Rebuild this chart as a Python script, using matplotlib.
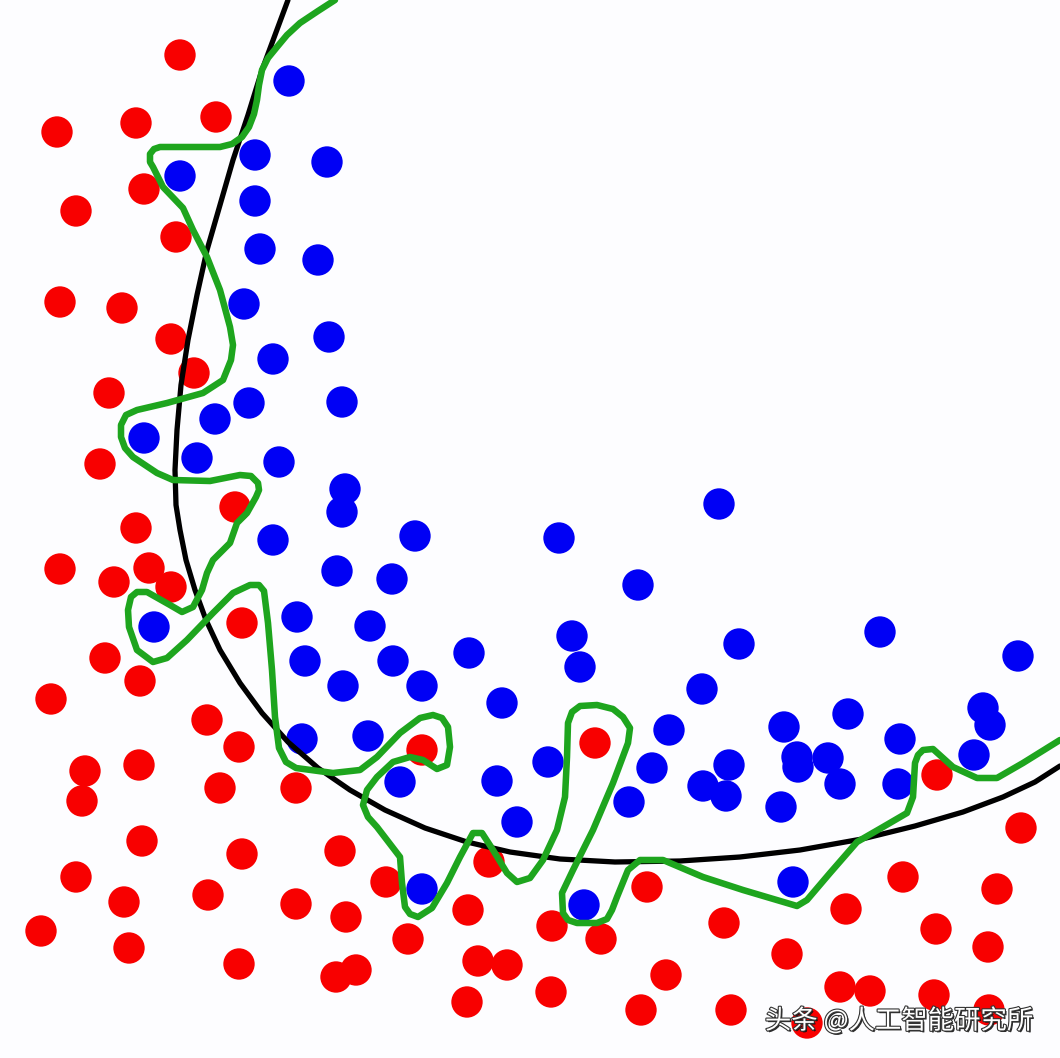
import numpy as np
import matplotlib.pyplot as plt
import matplotlib.patheffects as pe

plt.rcParams['font.family'] = ['Noto Sans CJK SC', 'DejaVu Sans']

# point positions (pixel units, y down)
red_x = [180, 57, 136, 216, 144, 76, 176, 60, 122, 171, 194, 109, 100, 235, 136,
         60, 114, 149, 171, 242, 105, 140, 51, 207, 239, 85, 139, 82, 220, 296,
         142, 242, 340, 76, 124, 208, 296, 346, 386, 422, 489, 468, 41, 129, 408,
         239, 336, 356, 478, 507, 467,
         595, 937, 1021, 647, 903, 997, 552, 601, 724, 846, 936, 988, 787, 666,
         551, 641, 731, 840, 870, 934, 989, 807]
red_y = [55, 132, 123, 117, 189, 211, 237, 302, 308, 339, 373, 393, 464, 507, 528,
         569, 582, 568, 587, 623, 658, 681, 699, 720, 747, 771, 765, 801, 788, 788,
         841, 854, 851, 877, 902, 895, 904, 917, 882, 750, 862, 910, 931, 948, 939,
         964, 977, 970, 961, 965, 1002,
         743, 775, 828, 887, 877, 889, 926, 939, 923, 909, 929, 947, 954, 975,
         992, 1010, 1010, 987, 991, 995, 1010, 1023]

blue_x = [289, 255, 327, 180, 255, 260, 318, 244, 329, 273, 249, 342, 215, 144, 197,
          279, 345, 342, 415, 273, 337, 392, 297, 370, 154, 305, 393, 469, 343, 422,
          502, 302, 368, 400, 497, 517, 422,
          559, 638, 572, 580, 739, 880, 1018, 702, 669, 784, 848, 900, 983, 990,
          974, 548, 652, 729, 703, 726, 629, 797, 798, 828, 840, 898, 781, 793,
          584, 719]
blue_y = [81, 155, 162, 176, 201, 249, 260, 304, 337, 359, 403, 402, 419, 438, 458,
          462, 489, 512, 536, 540, 571, 579, 617, 626, 627, 661, 661, 653, 686, 686,
          703, 739, 736, 782, 781, 822, 889,
          538, 585, 636, 667, 644, 632, 656, 689, 730, 727, 714, 739, 708, 725,
          755, 762, 768, 765, 786, 796, 802, 757, 767, 758, 784, 784, 807, 882,
          905, 504]

# smooth decision boundary
black_x = [288, 275, 262, 248, 233, 220, 207, 197, 188, 181, 177, 175, 176, 180, 186,
           195, 206, 220, 240, 262, 288, 318, 350, 385, 425, 467, 510, 560, 615, 680,
           740, 800, 862, 915, 963, 1003, 1035, 1060]
black_y = [0, 35, 70, 115, 160, 205, 250, 295, 340, 385, 430, 470, 505, 530, 560,
           590, 620, 650, 683, 713, 742, 768, 790, 810, 828, 842, 852, 859, 862, 861,
           857, 850, 839, 826, 812, 797, 782, 766]

# overfitted boundary
green_x = [335, 318, 300, 287, 277, 268, 262, 259, 257, 254, 249, 242, 232, 220, 160,
           154, 150, 150, 153, 163, 183, 193, 207, 220, 230, 233, 231, 223, 203, 167,
           137, 126, 121, 121, 125, 133, 157, 173, 210, 240, 251, 258, 259, 256, 247,
           237, 230, 213, 207, 202, 193, 182, 170, 147, 137, 131, 128, 129, 137, 153,
           167, 187, 213, 233, 250, 259, 264, 268, 272, 275, 279, 286, 296, 333, 360,
           377, 400, 420, 433, 442, 448, 450, 447, 437, 423, 410, 393, 377, 367, 363,
           368, 377, 400, 402, 405, 410, 418, 432, 447, 460, 473, 482, 493, 507, 517,
           530, 543, 557, 565, 567, 568, 572, 580, 597, 613, 623, 630, 628, 613, 593,
           573, 562, 563, 568, 577, 597, 607, 612, 617, 628, 640, 663, 703, 743, 797,
           807, 830, 857, 883, 907, 913, 915, 918, 923, 933, 953, 977, 997, 1023, 1060]
green_y = [0, 11, 23, 35, 47, 58, 70, 85, 100, 114, 127, 137, 144, 147, 147,
           149, 154, 162, 167, 187, 208, 230, 257, 290, 327, 345, 360, 380, 393, 403,
           410, 415, 425, 437, 448, 457, 473, 480, 481, 475, 476, 483, 490, 497, 513,
           523, 543, 560, 573, 590, 607, 612, 605, 592, 592, 597, 610, 627, 650, 662,
           658, 640, 613, 593, 585, 585, 591, 623, 670, 717, 748, 762, 768, 773, 770,
           757, 733, 718, 715, 718, 727, 747, 765, 769, 760, 757, 762, 777, 790, 805,
           817, 827, 857, 883, 907, 914, 917, 908, 883, 857, 833, 833, 850, 873, 882,
           878, 860, 830, 797, 757, 723, 712, 706, 705, 709, 717, 728, 743, 783, 830,
           870, 893, 913, 920, 923, 923, 919, 910, 897, 870, 860, 860, 877, 890, 906,
           900, 873, 842, 827, 813, 797, 763, 755, 750, 749, 767, 778, 778, 763, 740]

W, H = 1060, 1058
fig = plt.figure(figsize=(W / 100, H / 100), dpi=100, facecolor='#fdfdff')
ax = fig.add_axes([0, 0, 1, 1])
ax.set_facecolor('#fdfdff')

ax.scatter(red_x, red_y, s=510, color='#f80000', edgecolors='none', zorder=2)
ax.scatter(blue_x, blue_y, s=510, color='#0000f5', edgecolors='none', zorder=2)

ax.plot(black_x, black_y, color='black', lw=3.8, solid_capstyle='round',
        solid_joinstyle='round', zorder=3)
ax.plot(green_x, green_y, color='#1ea51e', lw=4.7, solid_capstyle='round',
        solid_joinstyle='round', zorder=4)

ax.text(899, 1021, '头条 @人工智能研究所', fontsize=19, color='white',
        ha='center', va='center', zorder=5,
        path_effects=[pe.withSimplePatchShadow(offset=(1.2, -1.2), shadow_rgbFace='#111111', alpha=0.9),
                      pe.withStroke(linewidth=1.6, foreground='#333333')])

ax.set_xlim(0, W)
ax.set_ylim(H, 0)
ax.axis('off')

fig.savefig('out.png', dpi=100, facecolor=fig.get_facecolor())
